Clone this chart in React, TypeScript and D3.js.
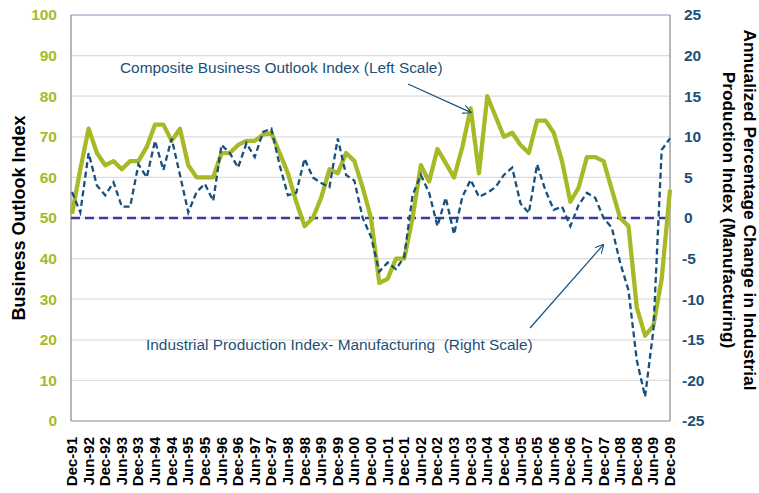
import * as d3 from "d3";

const quarters = [
  "Dec-91",
  "Mar-92", "Jun-92", "Sep-92", "Dec-92",
  "Mar-93", "Jun-93", "Sep-93", "Dec-93",
  "Mar-94", "Jun-94", "Sep-94", "Dec-94",
  "Mar-95", "Jun-95", "Sep-95", "Dec-95",
  "Mar-96", "Jun-96", "Sep-96", "Dec-96",
  "Mar-97", "Jun-97", "Sep-97", "Dec-97",
  "Mar-98", "Jun-98", "Sep-98", "Dec-98",
  "Mar-99", "Jun-99", "Sep-99", "Dec-99",
  "Mar-00", "Jun-00", "Sep-00", "Dec-00",
  "Mar-01", "Jun-01", "Sep-01", "Dec-01",
  "Mar-02", "Jun-02", "Sep-02", "Dec-02",
  "Mar-03", "Jun-03", "Sep-03", "Dec-03",
  "Mar-04", "Jun-04", "Sep-04", "Dec-04",
  "Mar-05", "Jun-05", "Sep-05", "Dec-05",
  "Mar-06", "Jun-06", "Sep-06", "Dec-06",
  "Mar-07", "Jun-07", "Sep-07", "Dec-07",
  "Mar-08", "Jun-08", "Sep-08", "Dec-08",
  "Mar-09", "Jun-09", "Sep-09", "Dec-09",
];

// tick labels shown on the x axis (every second quarter)
const xLabels = [
  "Dec-91", "Jun-92", "Dec-92", "Jun-93", "Dec-93", "Jun-94", "Dec-94", "Jun-95",
  "Dec-95", "Jun-96", "Dec-96", "Jun-97", "Dec-97", "Jun-98", "Dec-98", "Jun-99",
  "Dec-99", "Jun-00", "Dec-00", "Jun-01", "Dec-01", "Jun-02", "Dec-02", "Jun-03",
  "Dec-03", "Jun-04", "Dec-04", "Jun-05", "Dec-05", "Jun-06", "Dec-06", "Jun-07",
  "Dec-07", "Jun-08", "Dec-08", "Jun-09", "Dec-09",
];

// Composite Business Outlook Index (left scale)
const outlook = [
  51,
  62, 72, 66, 63,
  64, 62, 64, 64,
  67.5, 73, 73, 69,
  72, 63, 60, 60,
  60, 66, 66, 68,
  69, 69, 70.5, 71,
  66, 61, 54, 48,
  50, 55, 62, 61,
  66, 64, 57.5, 50,
  34, 35, 40, 40,
  50, 63, 59, 67,
  63.5, 60, 67.5, 77,
  61, 80, 75, 70,
  71, 68, 66, 74,
  74, 71, 64, 54,
  57.5, 65, 65, 64,
  57, 50, 48, 28,
  21, 23.5, 35, 57,
];

// Industrial production, manufacturing, annualized % change (right scale)
const production = [
  3.2,
  0.7, 8, 4, 2.8,
  4.4, 1.4, 1.4, 6.6,
  5, 9.5, 5.9, 9.8,
  5.3, 0.7, 3.2, 4.2,
  2.1, 9, 8, 6.2,
  9.2, 7.5, 10.6, 11,
  6.5, 2.8, 3.1, 7.3,
  5, 4.3, 3.8, 9.8,
  5.3, 4.6, 0, -2.3,
  -6.6, -5.5, -6.3, -4.8,
  2.8, 5.3, 3.1, -1,
  2.5, -2, 2.6, 4.7,
  2.6, 3.1, 3.8, 5.3,
  6.2, 1.8, 0.6, 6.6,
  3.4, 1, 1.4, -1,
  1.6, 3.1, 2.5, 0,
  -1.2, -5.5, -8.9, -17.5,
  -22, -13.8, 8.4, 9.8,
];

const leftTicks = [0, 10, 20, 30, 40, 50, 60, 70, 80, 90, 100];
const rightTicks = [-25, -20, -15, -10, -5, 0, 5, 10, 15, 20, 25];

const W = 759;
const H = 493;
const FONT = "'Liberation Sans', Arial, Helvetica, sans-serif";
const GREEN = "#a7b926";
const NAVY = "#17507c";
const LABEL_NAVY = "#1d4f78";

const App = () => {
  const x = d3.scalePoint<string>().domain(quarters).range([72, 670]);
  const yL = d3.scaleLinear().domain([0, 100]).range([421, 15]);
  const yR = d3.scaleLinear().domain([-25, 25]).range([421, 15]);

  const greenLine = d3
    .line<number>()
    .x((_, i) => x(quarters[i]) as number)
    .y((d) => yL(d));
  const prodLine = d3
    .line<number>()
    .x((_, i) => x(quarters[i]) as number)
    .y((d) => yR(d));

  const x0 = 71;
  const x1 = 670;

  return (
    <svg
      width={W}
      height={H}
      style={{ position: "absolute", left: 0, top: 0, background: "#fff" }}
      fontFamily={FONT}
    >
      <defs>
        <marker
          id="arr"
          viewBox="0 0 10 10"
          refX="9"
          refY="5"
          markerWidth="9"
          markerHeight="9"
          orient="auto"
          markerUnits="userSpaceOnUse"
        >
          <path d="M0,0 L10,5 L0,10" fill="none" stroke={NAVY} strokeWidth={1.2} />
        </marker>
      </defs>

      {/* gridlines */}
      {leftTicks.slice(1, -1).map((t) => (
        <line key={t} x1={x0} x2={x1} y1={yL(t)} y2={yL(t)} stroke="#dcdcdc" strokeWidth={1.2} />
      ))}
      <line x1={x0} x2={x1} y1={yL(100)} y2={yL(100)} stroke="#8c8cc4" strokeWidth={1} />

      {/* axes */}
      <line x1={x0} x2={x0} y1={15} y2={421} stroke="#888" strokeWidth={1.2} />
      <line x1={x1} x2={x1} y1={15} y2={421} stroke="#888" strokeWidth={1.2} />
      <line x1={x0} x2={x1} y1={421} y2={421} stroke="#888" strokeWidth={1.2} />

      {/* zero / 50 reference line */}
      <line
        x1={x0}
        x2={x1}
        y1={yL(50)}
        y2={yL(50)}
        stroke="#3a3aa0"
        strokeWidth={2.3}
        strokeDasharray="9,5"
      />

      <path
        d={greenLine(outlook) || ""}
        fill="none"
        stroke={GREEN}
        strokeWidth={4.3}
        strokeLinejoin="round"
      />
      <path
        d={prodLine(production) || ""}
        fill="none"
        stroke={NAVY}
        strokeWidth={2.3}
        strokeDasharray="6,3.5"
      />

      {/* left ticks */}
      {leftTicks.map((t) => (
        <text
          key={t}
          x={57}
          y={yL(t)}
          dy="0.35em"
          textAnchor="end"
          fontSize={15.5}
          fontWeight="bold"
          fill={GREEN}
        >
          {t}
        </text>
      ))}

      {/* right ticks */}
      {rightTicks.map((t) => (
        <text
          key={t}
          x={t < 0 ? 682 : 684}
          y={yR(t)}
          dy="0.35em"
          textAnchor="start"
          fontSize={15.5}
          fontWeight="bold"
          fill={LABEL_NAVY}
        >
          {t}
        </text>
      ))}

      {/* x labels */}
      {xLabels.map((l) => {
        const px = (x(l) as number) + 5;
        return (
          <text
            key={l}
            transform={`translate(${px},437) rotate(-90)`}
            textAnchor="end"
            fontSize={15}
            fontWeight="bold"
            fill="#000"
          >
            {l}
          </text>
        );
      })}

      {/* axis titles */}
      <text
        transform="translate(25,218) rotate(-90)"
        textAnchor="middle"
        fontSize={18}
        fontWeight="bold"
        fill="#000"
      >
        Business Outlook Index
      </text>
      <text
        transform="translate(744,210) rotate(90)"
        textAnchor="middle"
        fontSize={17.3}
        fontWeight="bold"
        fill="#000"
      >
        Annualized Percentage Change in Industrial
      </text>
      <text
        transform="translate(723,210) rotate(90)"
        textAnchor="middle"
        fontSize={17.3}
        fontWeight="bold"
        fill="#000"
      >
        Production Index (Manufacturing)
      </text>

      {/* annotations */}
      <text x={120} y={73} fontSize={15.4} fill={LABEL_NAVY}>
        Composite Business Outlook Index (Left Scale)
      </text>
      <line
        x1={408}
        y1={84}
        x2={x("Dec-03") as number}
        y2={yL(77) + 4}
        stroke={NAVY}
        strokeWidth={1.2}
        markerEnd="url(#arr)"
      />
      <text x={146} y={350} fontSize={15.4} fill={LABEL_NAVY} style={{ whiteSpace: "pre" }}>
        {"Industrial Production Index- Manufacturing  (Right Scale)"}
      </text>
      <line
        x1={530}
        y1={328}
        x2={(x("Sep-07") as number) + 8}
        y2={yR(-3.3)}
        stroke={NAVY}
        strokeWidth={1.2}
        markerEnd="url(#arr)"
      />
    </svg>
  );
};

export default App;
